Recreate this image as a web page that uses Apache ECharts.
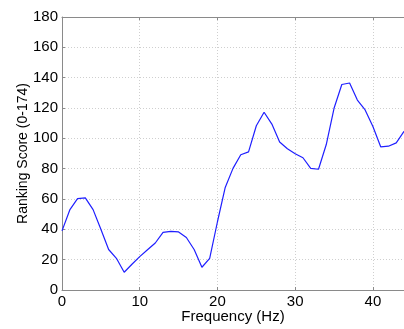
<!DOCTYPE html>
<html>
<head>
<meta charset="utf-8">
<script src="https://cdn.jsdelivr.net/npm/echarts@6/dist/echarts.min.js"></script>
<style>
  html, body { margin: 0; padding: 0; background: #fff; }
  #chart { width: 404px; height: 329px; }
</style>
</head>
<body>
<div id="chart"></div>
<script>
// frequency in Hz, one point per integer
const freqs = [];
for (let f = 0; f <= 44; f++) freqs.push(f);
const scores = [
  39, 52.8, 60.2, 60.7, 53, 40, 26.7, 20.9, 11.7, 17,
  22, 26.5, 31, 38, 38.7, 38.3, 34.6, 26.7, 15, 20.9,
  45, 67.6, 80.2, 89.2, 91.1, 108.3, 117.2, 109.4, 97.6, 93.1,
  89.8, 87.2, 80.2, 79.6, 95.9, 119.8, 135.5, 136.5, 125.2, 118.7,
  107.8, 94.4, 94.8, 97, 104.6
];
const xTicks = [0, 10, 20, 30, 40];
const yTicks = [0, 20, 40, 60, 80, 100, 120, 140, 160, 180];

const chart = echarts.init(document.getElementById('chart'));
const font = 'Liberation Sans, Arial, sans-serif';
const axisColor = '#8a8a8a';
const gridLine = { show: true, lineStyle: { color: '#cfcfcf', type: [1, 2], width: 1 } };

chart.setOption({
  animation: false,
  grid: { left: 62, right: 0, top: 17, bottom: 37, containLabel: false },
  xAxis: [
    {
      type: 'value',
      min: 0,
      max: 44,
      interval: 10,
      name: 'Frequency (Hz)',
      nameLocation: 'middle',
      nameGap: 19,
      nameMoveOverlap: false,
      nameTextStyle: { fontFamily: font, fontSize: 15, color: '#000' },
      axisLine: { show: true, lineStyle: { color: axisColor } },
      axisTick: { show: true, inside: true, length: 3, lineStyle: { color: axisColor } },
      axisLabel: {
        fontFamily: font, fontSize: 15, color: '#000', margin: 4,
        showMaxLabel: false,
        formatter: (v) => (xTicks.includes(v) ? String(v) : '')
      },
      splitLine: gridLine
    },
    {
      type: 'value',
      position: 'top',
      min: 0,
      max: 44,
      interval: 10,
      axisLine: { show: true, lineStyle: { color: axisColor } },
      axisTick: { show: true, inside: true, length: 3, lineStyle: { color: axisColor } },
      axisLabel: { show: false },
      splitLine: { show: false }
    }
  ],
  yAxis: {
    type: 'value',
    min: 0,
    max: 180,
    interval: 20,
    name: 'Ranking Score (0-174)',
    nameLocation: 'middle',
    nameGap: 32,
    nameMoveOverlap: false,
    nameTextStyle: { fontFamily: font, fontSize: 14, color: '#000' },
    axisLine: { show: true, lineStyle: { color: axisColor } },
    axisTick: { show: true, inside: true, length: 3, lineStyle: { color: axisColor } },
    axisLabel: {
      fontFamily: font, fontSize: 15, color: '#000', margin: 4,
      formatter: (v) => (yTicks.includes(v) ? String(v) : '')
    },
    splitLine: gridLine
  },
  series: [
    {
      type: 'line',
      data: freqs.map((f, i) => [f, scores[i]]),
      showSymbol: false,
      lineStyle: { color: '#1f1fff', width: 1.2 },
      clip: true
    }
  ]
});
</script>
</body>
</html>
